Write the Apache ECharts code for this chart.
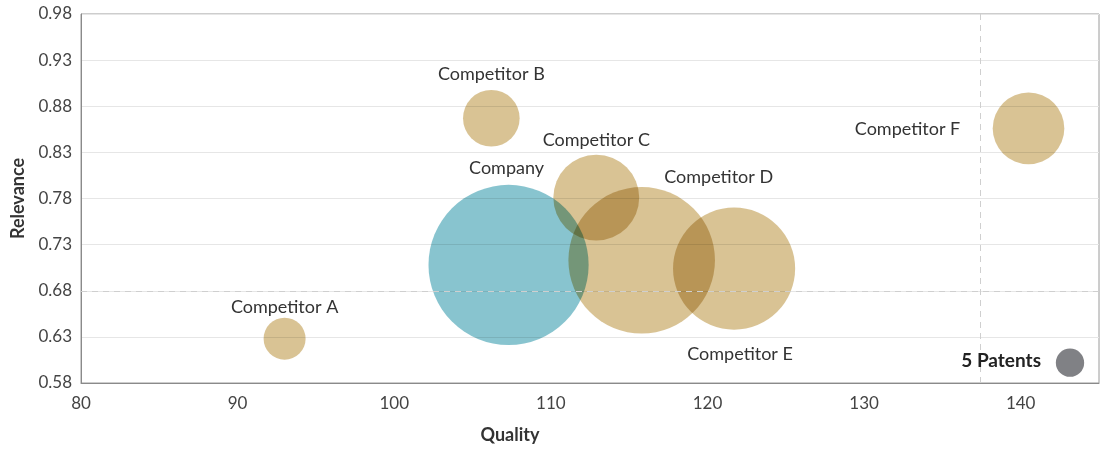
<!DOCTYPE html>
<html>
<head>
<meta charset="utf-8">
<script src="https://cdn.jsdelivr.net/npm/echarts@6/dist/echarts.min.js"></script>
<style>
html,body{margin:0;padding:0;background:#fff;}
#chart{width:1103px;height:449px;}
</style>
</head>
<body>
<div id="chart"></div>
<script>
// ---- data ----
const names     = ['Company', 'Competitor A', 'Competitor B', 'Competitor C', 'Competitor D', 'Competitor E', 'Competitor F'];
const quality   = [107.3, 93.0, 106.2, 112.9, 115.8, 121.7, 140.5];
const relevance = [0.708, 0.628, 0.867, 0.781, 0.713, 0.704, 0.856];
const patents   = [160, 11, 20, 46, 134, 93, 32];
const refQuality = 137.4;
const refRelevance = 0.678;
const legendPatents = 5;
const xTicks = [80, 90, 100, 110, 120, 130, 140];
const yTicks = [0.58, 0.63, 0.68, 0.73, 0.78, 0.83, 0.88, 0.93, 0.98];

// ---- styling ----
const yBase = yTicks[0];
const sizeOf = p => 12.66 * Math.sqrt(p);
const colors = ['#88c4cf', '#d9c394', '#d9c394', '#d9c394', '#d9c394', '#d9c394', '#d9c394'];
const labelOffsets = [[-2, -97], [0, -32], [0, -44], [0, -57], [77, -83], [6, 86], [-121, 1]];
const FONT = 'Lato, "Noto Sans", sans-serif';

const chart = echarts.init(document.getElementById('chart'), null, {renderer: 'canvas'});

const data = names.map((n, i) => ({
  name: n,
  value: [quality[i], relevance[i] - yBase, patents[i]],
  symbolSize: sizeOf(patents[i]),
  itemStyle: {color: colors[i], opacity: 1},
  label: {show: true, position: 'inside', offset: labelOffsets[i], formatter: n}
}));

const option = {
  backgroundColor: '#ffffff',
  animation: false,
  grid: {left: 81, top: 14, right: 4, bottom: 63, show: true, borderColor: '#9a9a9a', borderWidth: 1, backgroundColor: 'transparent'},
  xAxis: {
    type: 'value', min: 80, max: 145, interval: 10,
    name: 'Quality', nameLocation: 'middle', nameGap: 43,
    nameTextStyle: {fontFamily: FONT, fontWeight: 'bold', fontSize: 18, color: '#333', padding: [0, 160, 0, 0]},
    axisLine: {show: true, lineStyle: {color: '#8a8a8a'}},
    axisTick: {show: false},
    splitLine: {show: false},
    axisLabel: {fontFamily: FONT, fontSize: 17, color: '#444', margin: 12,
      formatter: v => (xTicks.indexOf(v) >= 0 ? String(v) : '')}
  },
  yAxis: {
    type: 'value', min: 0, max: yTicks[yTicks.length - 1] - yBase, interval: 0.05,
    name: 'Relevance', nameLocation: 'middle', nameGap: 52,
    nameTextStyle: {fontFamily: FONT, fontWeight: 'bold', fontSize: 18, color: '#333'},
    axisLine: {show: true, lineStyle: {color: '#8a8a8a'}},
    axisTick: {show: false},
    splitLine: {show: true, lineStyle: {color: '#e6e6e6', width: 1}},
    axisLabel: {fontFamily: FONT, fontSize: 17, color: '#444', margin: 9,
      formatter: v => (v + yBase).toFixed(2)}
  },
  series: [{
    type: 'scatter',
    blendMode: 'multiply',
    data: data,
    label: {fontFamily: FONT, fontSize: 18, color: '#333'},
    emphasis: {disabled: true},
    markLine: {
      silent: true, symbol: 'none',
      label: {show: false},
      lineStyle: {type: [6, 5], color: '#cfcfcf', width: 1},
      data: [{xAxis: refQuality}, {yAxis: refRelevance - yBase}]
    }
  }],
  graphic: []
};
chart.setOption(option);

// size key ("5 Patents") placed in the lower right corner of the plot
const r = sizeOf(legendPatents) / 2;
chart.setOption({
  graphic: [
    {type: 'circle', right: 1103 - 1070 - r, top: 362.7 - r, shape: {r: r}, style: {fill: '#808185'}, z: 10},
    {type: 'text', right: 1103 - 1041, top: 351, style: {text: legendPatents + ' Patents', font: 'bold 19px ' + FONT, fill: '#222'}, z: 10}
  ]
});
</script>
</body>
</html>
